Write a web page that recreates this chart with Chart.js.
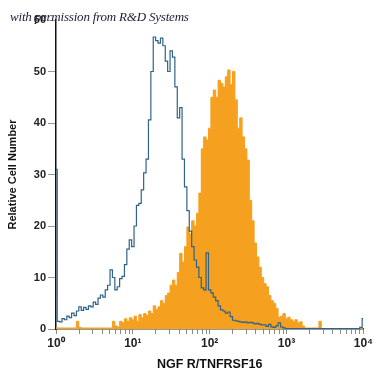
<!DOCTYPE html>
<html>
<head>
<meta charset="utf-8">
<script src="https://cdn.jsdelivr.net/npm/chart.js@4"></script>
<style>
  body { margin: 0; background: #fff; }
  #wrap { position: relative; width: 375px; height: 375px; }
  #note {
    position: absolute; left: 10px; top: 9px; z-index: 2;
    font: italic 13px "Liberation Serif", "DejaVu Serif", serif;
    color: #1c1c3a; white-space: nowrap; letter-spacing: -0.2px;
  }
</style>
</head>
<body>
<div id="wrap">
  <div id="note">with permission from R&amp;D Systems</div>
  <canvas id="histChart"></canvas>
</div>
<script>
// channel = log10 position / 32 (128 channels over 4 decades)
const channelsPerDecade = 32;

// isotype control (blue outline)
const isotype = [
  31, 1.5, 1.4, 2.0, 1.8, 2.5, 2.2, 3.1, 2.6, 3.5,
  4.3, 3.6, 4.2, 3.8, 4.5, 4.3, 5.2, 4.8, 6.0, 6.6,
  6.2, 7.6, 8.5, 11.5, 10.0, 7.6, 8.2, 9.8, 10.2, 12.5,
  15.5, 17.3, 16, 20, 24, 24.4, 27, 30.3, 33, 40.6,
  50, 56.7, 56, 55.5, 56.5, 55, 52, 50, 54, 52.8,
  47, 41, 43, 33, 27.6, 23, 19, 16, 13.4, 12,
  10, 8, 7.6, 14.8, 7.6, 7, 6.2, 5.5, 4.5, 3.7,
  3.5, 3.1, 3.3, 2.4, 1.7, 1.6, 1.5, 1.4, 1.3, 1.4,
  1.2, 1.3, 1.2, 1.0, 1.1, 0.9, 0.8, 0.8, 0.5, 0.9,
  0.4, 0.3, 0.6, 1.2, 0.4, 0.2, 0.1, 0.1, 0.1, 0.1,
  0.1, 0.1, 0.1, 0.1, 0.1, 0.1, 0.1, 0.1, 0.1, 0.1,
  0.1, 0.1, 0.1, 0.1, 0.1, 0.1, 0.1, 0.1, 0.1, 0.1,
  0.1, 0.1, 0.1, 0.1, 0.1, 0.1, 0.1, 0.3, 2
];

// NGF R/TNFRSF16 stained (orange filled)
const stained = [
  0.3, 0.2, 0.2, 0.2, 0.2, 0.2, 0.2, 0.2, 0.2, 1.5,
  0.3, 0.2, 0.2, 0.2, 0.2, 0.2, 0.2, 0.2, 0.2, 0.2,
  0.2, 0.2, 0.2, 0.2, 1.5, 0.6, 0.4, 1.5, 1.2, 2.0,
  1.5, 2.2, 1.8, 2.5, 1.5, 2.8, 2.2, 3.0, 2.6, 3.5,
  3.0, 4.5, 3.8, 4.3, 5.5, 5.0, 6.5, 7.0, 8.5, 9.5,
  8.5, 11, 14.7, 13, 16, 19.8, 18.5, 21, 20, 22.5,
  26.4, 35, 37.3, 36.7, 39, 45, 46.4, 45, 48.3, 47.7,
  47, 49, 50.3, 47.5, 50, 44.5, 39, 41, 37.3, 35,
  32.8, 25, 21, 16.7, 14, 12, 10, 8.8, 8.2, 6.5,
  5.5, 5, 4, 2.3, 2.5, 3, 2, 2.3, 1.8, 1.5,
  1.8, 1.2, 1.4, 0.6, 0.2, 0.2, 0.2, 0.2, 0.2, 0.2,
  1.5, 0.1, 0.1, 0.1, 0.1, 0.1, 0.1, 0.1, 0.1, 0.1,
  0.1, 0.1, 0.1, 0.1, 0.1, 0.1, 0.1, 0.1, 0.1
];

const decades = [0, 1, 2, 3, 4];
const decadeLabels = ["10\u2070", "10\u00b9", "10\u00b2", "10\u00b3", "10\u2074"];
const yTicks = [0, 10, 20, 30, 40, 50, 60];

const toPoints = arr => arr.map((v, i) => ({ x: i / channelsPerDecade, y: v }));

const logTicks = [];
decades.forEach(d => {
  logTicks.push({ value: d, major: true });
  if (d < 4) {
    for (let k = 2; k <= 9; k++) logTicks.push({ value: d + Math.log10(k) });
  }
});

new Chart(document.getElementById("histChart"), {
  type: "line",
  data: {
    datasets: [
      {
        label: "Isotype",
        data: toPoints(isotype),
        borderColor: "#2f6387",
        borderWidth: 1.2,
        pointRadius: 0,
        stepped: "middle",
        fill: false
      },
      {
        label: "NGF R/TNFRSF16",
        data: toPoints(stained),
        borderColor: "#f5a01f",
        backgroundColor: "#f5a01f",
        borderWidth: 1,
        pointRadius: 0,
        stepped: "middle",
        fill: "origin"
      }
    ]
  },
  options: {
    responsive: true,
    maintainAspectRatio: false,
    animation: false,
    layout: { padding: { top: 20, right: 7, left: 0, bottom: 0 } },
    plugins: { legend: { display: false }, tooltip: { enabled: false } },
    scales: {
      x: {
        type: "linear",
        min: 0,
        max: 4,
        afterBuildTicks: scale => { scale.ticks = logTicks.map(t => ({ ...t })); },
        afterFit: scale => { scale.height = 46; },
        ticks: {
          autoSkip: false,
          maxRotation: 0,
          padding: 2,
          color: "#222",
          font: { family: "Liberation Sans", size: 12, weight: "bold" },
          callback: value => {
            const idx = decades.indexOf(value);
            return idx >= 0 ? decadeLabels[idx] : "";
          }
        },
        grid: { drawOnChartArea: false, tickLength: 5, color: "#8a8a8a" },
        border: { color: "#333", width: 1.5 },
        title: {
          display: true,
          text: "NGF R/TNFRSF16",
          color: "#111",
          padding: { top: 0, bottom: 3 },
          font: { family: "Liberation Sans", size: 12.5, weight: "bold" }
        }
      },
      y: {
        min: 0,
        max: 60,
        afterBuildTicks: scale => { scale.ticks = yTicks.map(v => ({ value: v })); },
        afterFit: scale => { scale.width = 56; },
        ticks: {
          padding: 2,
          color: "#222",
          font: { family: "Liberation Sans", size: 11, weight: "bold" }
        },
        grid: { drawOnChartArea: false, tickLength: 8, color: "#999" },
        border: { color: "#111", width: 1.5 },
        title: {
          display: true,
          text: "Relative Cell Number",
          color: "#111",
          padding: { top: 6, bottom: 0 },
          font: { family: "Liberation Sans", size: 11, weight: "bold" }
        }
      }
    }
  }
});
</script>
</body>
</html>
